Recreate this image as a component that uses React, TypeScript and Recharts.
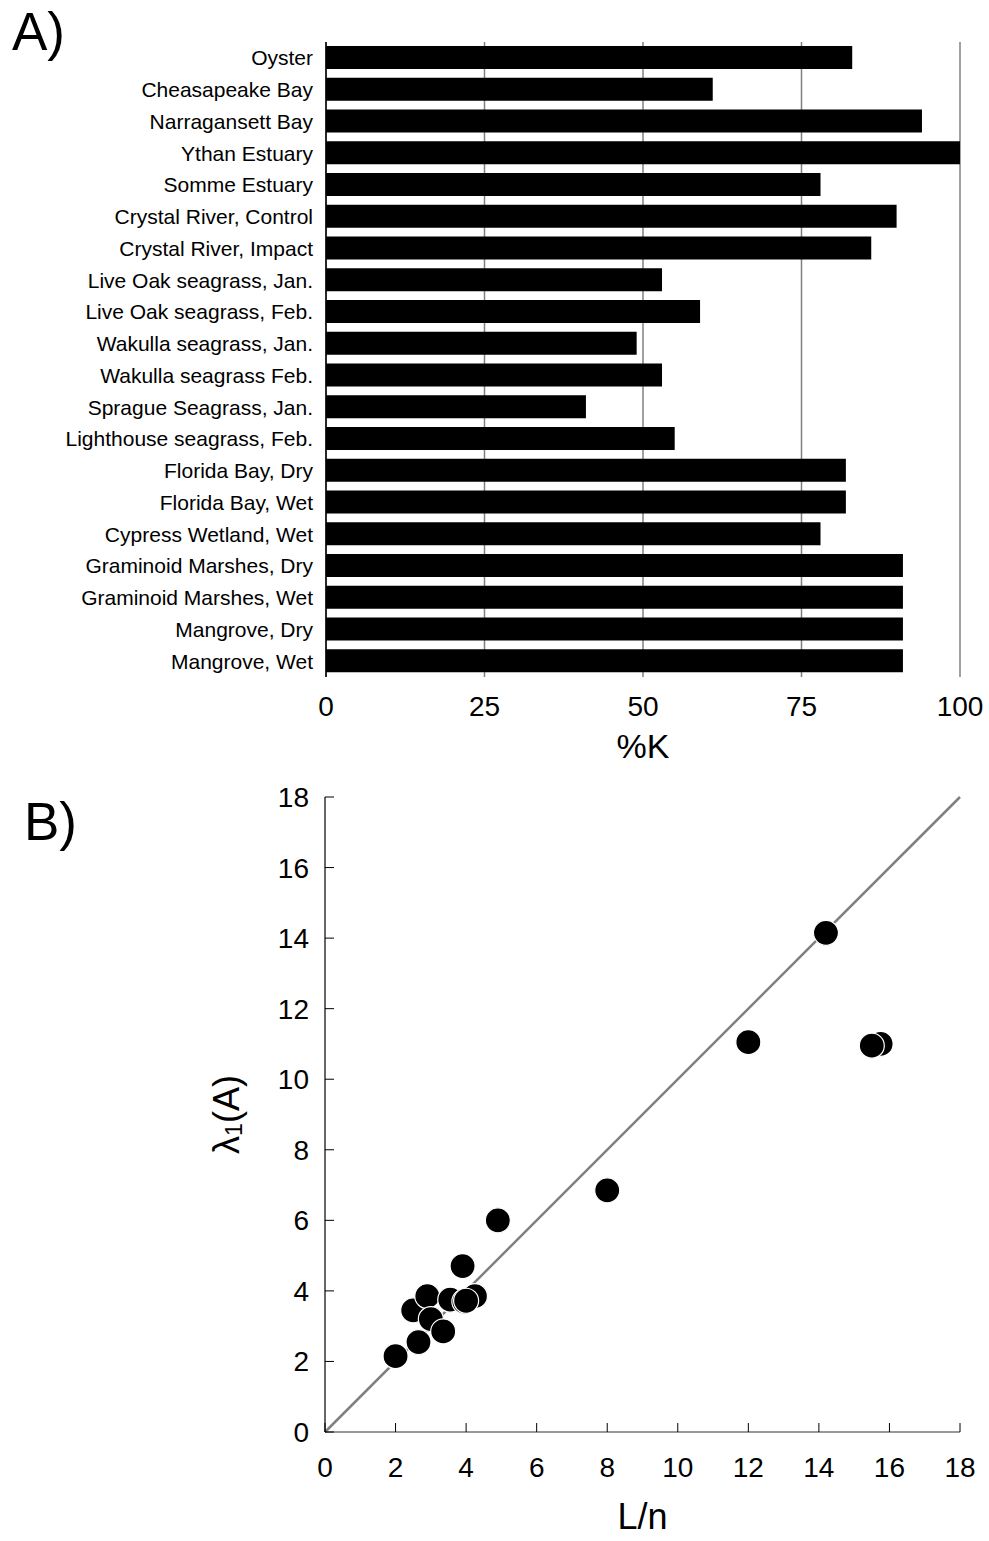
import React from 'react';
import {
  BarChart,
  Bar,
  XAxis,
  YAxis,
  CartesianGrid,
  ScatterChart,
  Scatter,
  ReferenceLine,
} from 'recharts';

const FONT = "Arial, 'Liberation Sans', sans-serif";

// Panel A: %K per ecosystem
const ecosystems = [
  'Oyster',
  'Cheasapeake Bay',
  'Narragansett Bay',
  'Ythan Estuary',
  'Somme Estuary',
  'Crystal River, Control',
  'Crystal River, Impact',
  'Live Oak seagrass, Jan.',
  'Live Oak seagrass, Feb.',
  'Wakulla seagrass, Jan.',
  'Wakulla seagrass Feb.',
  'Sprague Seagrass, Jan.',
  'Lighthouse seagrass, Feb.',
  'Florida Bay, Dry',
  'Florida Bay, Wet',
  'Cypress Wetland, Wet',
  'Graminoid Marshes, Dry',
  'Graminoid Marshes, Wet',
  'Mangrove, Dry',
  'Mangrove, Wet',
];
const percentK = [83, 61, 94, 100, 78, 90, 86, 53, 59, 49, 53, 41, 55, 82, 82, 78, 91, 91, 91, 91];
const kTicks = [0, 25, 50, 75, 100];

// Panel B: lambda_1(A) vs L/n
const lOverN = [2.0, 2.65, 2.5, 2.9, 3.0, 3.35, 3.55, 3.9, 4.25, 3.95, 4.0, 4.9, 8.0, 12.0, 14.2, 15.75, 15.5];
const lambda1 = [2.15, 2.55, 3.45, 3.85, 3.2, 2.85, 3.75, 4.7, 3.85, 3.7, 3.72, 6.0, 6.85, 11.05, 14.15, 11.0, 10.95];
const bTicks = [0, 2, 4, 6, 8, 10, 12, 14, 16, 18];

const barData = ecosystems.map((name, i) => ({ name, k: percentK[i] }));
const scatterData = lOverN.map((x, i) => ({ x, y: lambda1[i] }));

const Dot = (props: any) => {
  const { cx, cy } = props;
  return <circle cx={cx} cy={cy} r={12.5} fill="#000" stroke="#fff" strokeWidth={1.2} />;
};

const XTickB = (props: any) => {
  const { x, y, payload } = props;
  return (
    <g>
      <line x1={x} y1={y} x2={x} y2={y - 9} stroke="#000" strokeWidth={1} />
      <text x={x} y={y + 45} textAnchor="middle" fontSize={28} fontFamily={FONT} fill="#000">
        {payload.value}
      </text>
    </g>
  );
};

const YTickB = (props: any) => {
  const { x, y, payload } = props;
  return (
    <g>
      <line x1={x} y1={y} x2={x + 9} y2={y} stroke="#000" strokeWidth={1} />
      <text x={x - 16} y={y + 10} textAnchor="end" fontSize={28} fontFamily={FONT} fill="#000">
        {payload.value}
      </text>
    </g>
  );
};

const LambdaLabel = (props: any) => {
  const { viewBox } = props;
  const cx = viewBox.x + viewBox.width - 99;
  const cy = viewBox.y + viewBox.height / 2;
  return (
    <text
      x={cx}
      y={cy}
      transform={`rotate(-90, ${cx}, ${cy})`}
      textAnchor="middle"
      dominantBaseline="central"
      fontSize={36}
      fontFamily={FONT}
      fill="#000"
    >
      λ<tspan fontSize={23} dy={8}>1</tspan>
      <tspan dy={-8}>(A)</tspan>
    </text>
  );
};

export default function App() {
  return (
    <div
      style={{
        position: 'absolute',
        left: 0,
        top: 0,
        width: 989,
        height: 1541,
        background: '#fff',
        fontFamily: FONT,
      }}
    >
      <div style={{ position: 'absolute', left: 12, top: 2, fontSize: 53, lineHeight: '60px' }}>A)</div>
      <div style={{ position: 'absolute', left: 24, top: 792, fontSize: 53, lineHeight: '60px' }}>B)</div>

      <div style={{ position: 'absolute', left: 0, top: 0 }}>
        <BarChart
          width={989}
          height={780}
          data={barData}
          layout="vertical"
          margin={{ top: 42, right: 29, bottom: 0, left: 0 }}
        >
          <CartesianGrid horizontal={false} stroke="#808080" strokeWidth={1.5} />
          <XAxis
            type="number"
            domain={[0, 100]}
            ticks={kTicks}
            height={103}
            axisLine={false}
            tickLine={false}
            tickSize={0}
            tickMargin={19}
            tick={{ fontSize: 28, fill: '#000', fontFamily: FONT }}
            label={{
              value: '%K',
              position: 'insideBottom',
              offset: 22,
              fontSize: 34,
              fill: '#000',
              fontFamily: FONT,
            }}
          />
          <YAxis
            type="category"
            dataKey="name"
            width={326}
            axisLine={{ stroke: '#000', strokeWidth: 1.5 }}
            tickLine={false}
            tickSize={0}
            tickMargin={13}
            interval={0}
            tick={{ fontSize: 21, fill: '#000', fontFamily: FONT }}
          />
          <Bar dataKey="k" fill="#000" barSize={23} isAnimationActive={false} />
        </BarChart>
      </div>

      <div style={{ position: 'absolute', left: 0, top: 760 }}>
        <ScatterChart width={989} height={781} margin={{ top: 37, right: 29, bottom: 0, left: 0 }}>
          <XAxis
            type="number"
            dataKey="x"
            domain={[0, 18]}
            ticks={bTicks}
            height={109}
            axisLine={{ stroke: '#333', strokeWidth: 1.2 }}
            tickLine={false}
            tickSize={0}
            tickMargin={0}
            tick={<XTickB />}
            label={{
              value: 'L/n',
              position: 'insideBottom',
              offset: 12,
              fontSize: 36,
              fill: '#000',
              fontFamily: FONT,
            }}
          />
          <YAxis
            type="number"
            dataKey="y"
            domain={[0, 18]}
            ticks={bTicks}
            width={325}
            axisLine={{ stroke: '#000', strokeWidth: 1.2 }}
            tickLine={false}
            tickSize={0}
            tickMargin={0}
            tick={<YTickB />}
            label={<LambdaLabel />}
          />
          <ReferenceLine
            segment={[
              { x: 0, y: 0 },
              { x: 18, y: 18 },
            ]}
            stroke="#808080"
            strokeWidth={2.5}
          />
          <Scatter data={scatterData} shape={<Dot />} isAnimationActive={false} />
        </ScatterChart>
      </div>
    </div>
  );
}
